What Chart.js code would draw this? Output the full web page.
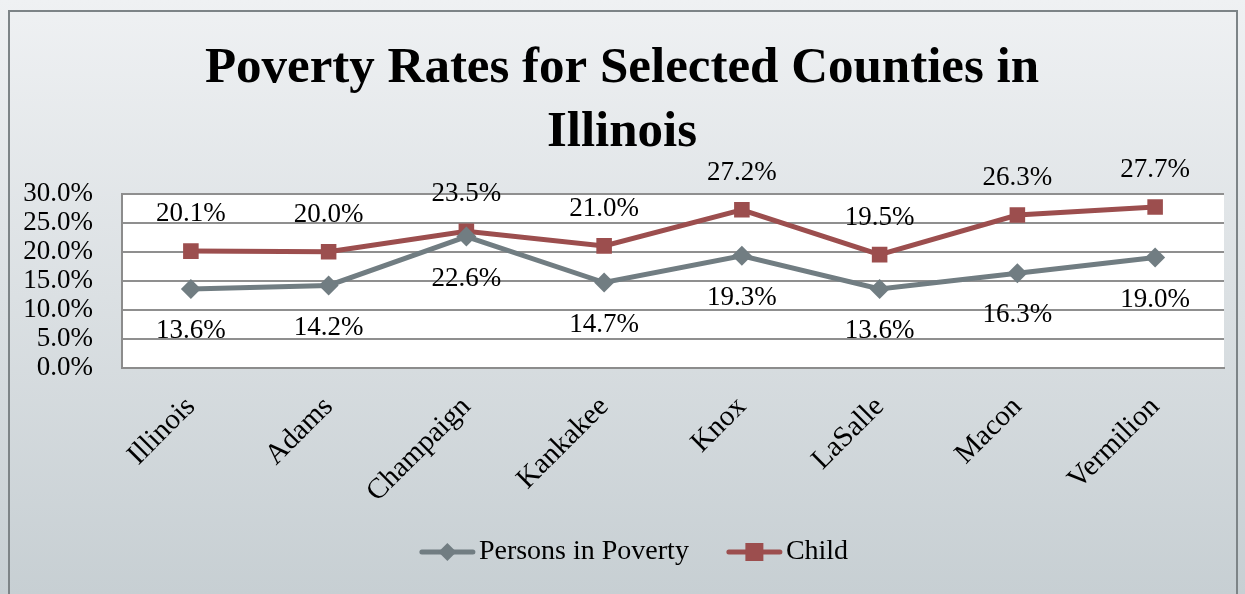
<!DOCTYPE html>
<html>
<head>
<meta charset="utf-8">
<script src="https://cdn.jsdelivr.net/npm/chart.js@4"></script>
<style>
  body { margin: 0; background: #fff; }
  #wrap { width: 1245px; height: 594px; }
</style>
</head>
<body>
<div id="wrap"><canvas id="myChart" width="1245" height="594"></canvas></div>
<script>
// Data for chart
const counties = ['Illinois', 'Adams', 'Champaign', 'Kankakee', 'Knox', 'LaSalle', 'Macon', 'Vermilion'];
const personsInPoverty = [13.6, 14.2, 22.6, 14.7, 19.3, 13.6, 16.3, 19.0];
const childPoverty = [20.1, 20.0, 23.5, 21.0, 27.2, 19.5, 26.3, 27.7];
const yTicks = [0, 5, 10, 15, 20, 25, 30];

const serif = "'Liberation Serif', 'DejaVu Serif', serif";
const personsColor = '#717D82';
const childColor = '#9C4E4E';

// background, outer frame and white plot area
const backdrop = {
  id: 'backdrop',
  beforeDraw(chart) {
    const { ctx, chartArea: a } = chart;
    ctx.save();
    const g = ctx.createLinearGradient(0, 0, 0, chart.height);
    g.addColorStop(0, '#eff1f3');
    g.addColorStop(1, '#c7cfd3');
    ctx.fillStyle = g;
    ctx.fillRect(0, 0, chart.width, chart.height);
    ctx.strokeStyle = '#7d8487';
    ctx.lineWidth = 2;
    ctx.strokeRect(9, 11, chart.width - 17, chart.height + 10);
    ctx.fillStyle = '#ffffff';
    ctx.fillRect(a.left, a.top, a.right - a.left, a.bottom - a.top);
    ctx.restore();
  }
};

// value labels: child above the point, persons below
const valueLabels = {
  id: 'valueLabels',
  afterDatasetsDraw(chart) {
    const ctx = chart.ctx;
    ctx.save();
    ctx.font = '27px ' + serif;
    ctx.fillStyle = '#000';
    ctx.textAlign = 'center';
    ctx.textBaseline = 'middle';
    chart.data.datasets.forEach((ds, i) => {
      const meta = chart.getDatasetMeta(i);
      const dy = i === 0 ? 42 : -37;
      meta.data.forEach((pt, j) => {
        ctx.fillText(ds.data[j].toFixed(1) + '%', pt.x, pt.y + dy);
      });
    });
    ctx.restore();
  }
};

// legend with line + marker like the original
const lineLegend = {
  id: 'lineLegend',
  afterDraw(chart) {
    const ctx = chart.ctx;
    ctx.save();
    ctx.font = '28px ' + serif;
    ctx.textBaseline = 'middle';
    const lineW = 55, gapText = 4, gapItem = 38, y = 552;
    const items = chart.data.datasets.map(ds => ({
      ds, w: lineW + gapText + ctx.measureText(ds.label).width
    }));
    const total = items.reduce((s, it) => s + it.w, 0) + gapItem * (items.length - 1);
    let x = 634 - total / 2;
    items.forEach(it => {
      ctx.strokeStyle = it.ds.borderColor;
      ctx.lineWidth = 5;
      ctx.lineCap = 'round';
      ctx.beginPath();
      ctx.moveTo(x + 2, y);
      ctx.lineTo(x + lineW - 2, y);
      ctx.stroke();
      ctx.fillStyle = it.ds.borderColor;
      const cx = x + lineW / 2;
      if (it.ds.pointStyle === 'rect') {
        ctx.fillRect(cx - 9, y - 9, 18, 18);
      } else {
        ctx.beginPath();
        ctx.moveTo(cx, y - 9);
        ctx.lineTo(cx + 9, y);
        ctx.lineTo(cx, y + 9);
        ctx.lineTo(cx - 9, y);
        ctx.closePath();
        ctx.fill();
      }
      ctx.fillStyle = '#000';
      ctx.textAlign = 'left';
      ctx.fillText(it.ds.label, x + lineW + gapText, y);
      x += it.w + gapItem;
    });
    ctx.restore();
  }
};

const ctx = document.getElementById('myChart').getContext('2d');
const myChart = new Chart(ctx, {
  type: 'line',
  data: {
    labels: counties,
    datasets: [
      {
        label: 'Persons in Poverty',
        data: personsInPoverty,
        borderColor: personsColor,
        backgroundColor: personsColor,
        borderWidth: 5,
        pointStyle: 'rectRot',
        pointRadius: 10,
        pointBorderWidth: 0,
        tension: 0
      },
      {
        label: 'Child',
        data: childPoverty,
        borderColor: childColor,
        backgroundColor: childColor,
        borderWidth: 5,
        pointStyle: 'rect',
        pointRadius: 11,
        pointBorderWidth: 0,
        tension: 0
      }
    ]
  },
  options: {
    responsive: false,
    animation: false,
    layout: { padding: { left: 20, right: 21, top: 0, bottom: 76 } },
    plugins: {
      legend: { display: false },
      tooltip: { enabled: false },
      title: {
        display: true,
        text: ['Poverty Rates for Selected Counties in', 'Illinois'],
        color: '#000',
        font: { family: serif, size: 51, weight: 'bold', lineHeight: 1.27 },
        padding: { top: 36, bottom: 28 }
      }
    },
    scales: {
      x: {
        offset: true,
        grid: { display: false, drawTicks: false },
        border: { color: '#8c8c8c', width: 2 },
        ticks: {
          color: '#000',
          font: { family: serif, size: 29 },
          minRotation: 45,
          maxRotation: 45,
          padding: 22
        },
        afterFit(scale) { scale.height = 150; }
      },
      y: {
        min: 0,
        max: 30,
        afterBuildTicks(scale) { scale.ticks = yTicks.map(v => ({ value: v })); },
        grid: { color: '#8f8f8f', lineWidth: 2, drawTicks: false },
        border: { color: '#8c8c8c', width: 2 },
        ticks: {
          color: '#000',
          autoSkip: false,
          font: { family: serif, size: 27 },
          padding: 29,
          callback: v => v.toFixed(1) + '%'
        },
        afterFit(scale) { scale.width = 102; }
      }
    }
  },
  plugins: [backdrop, valueLabels, lineLegend]
});
</script>
</body>
</html>
